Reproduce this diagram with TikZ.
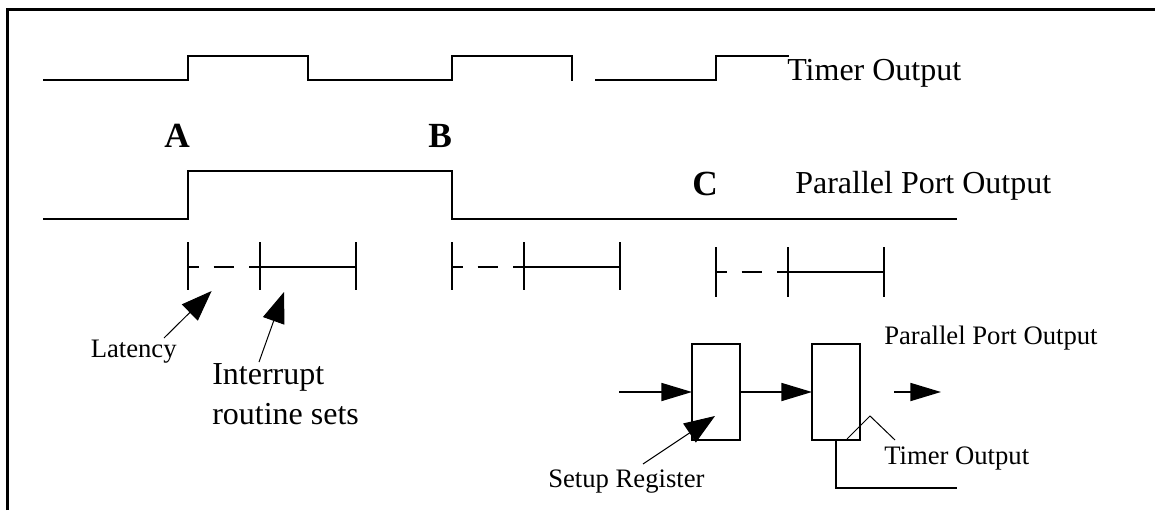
\documentclass[tikz,border=0pt]{standalone}
\usepackage{fontspec}
\setmainfont{Liberation Serif}
\usetikzlibrary{arrows.meta}
\tikzset{
  frameline/.style={line width=2.25pt,line cap=butt},
  wave/.style={line width=1.35pt,line join=miter},
  tickline/.style={line width=1.35pt},
  thin leader/.style={line width=0.75pt},
  bigtext/.style={inner sep=0pt,anchor=base west,font=\fontsize{24}{30}\selectfont},
  smalltext/.style={inner sep=0pt,anchor=base west,font=\fontsize{20}{24}\selectfont},
  boldtext/.style={inner sep=0pt,anchor=base west,font=\fontsize{26.5}{30}\selectfont\bfseries},
  regbox/.style={draw,line width=1.35pt,minimum width=36pt,minimum height=72pt,inner sep=0pt,outer sep=0pt},
  flow/.style={line width=1.35pt,-{Triangle[length=23pt,width=13.5pt]}},
  pointer/.style={line width=0.75pt,-{Triangle[length=23pt,width=17pt]}}
}
\begin{document}
\begin{tikzpicture}[x=0.75pt,y=-0.75pt]
\useasboundingbox (0,0) rectangle (1155,510);
% frame
\draw[frameline] (7.5,510) -- (7.5,10) -- (1155,10);
% timer output
\draw[wave] (43,80) -- (188,80) -- (188,56) -- (308,56) -- (308,80) -- (452,80) -- (452,56) -- (572,56) -- (572,81);
\draw[wave] (595,80) -- (716,80) -- (716,56) -- (789,56);
% parallel port output
\draw[wave] (43,219) -- (188,219) -- (188,171) -- (452,171) -- (452,219) -- (957,219);
% timing marks
\draw[tickline] (188,242) -- (188,290) (260,242) -- (260,290) (356,242) -- (356,290);
\draw[tickline] (188,267) -- (199,267) (213.5,267) -- (234,267) (249,267) -- (356,267);
\draw[tickline] (452,242) -- (452,290) (524,242) -- (524,290) (620,242) -- (620,290);
\draw[tickline] (452,267) -- (463,267) (477.5,267) -- (498,267) (513,267) -- (620,267);
\draw[tickline] (716,247) -- (716,297) (788,247) -- (788,297) (884,247) -- (884,297);
\draw[tickline] (716,272) -- (727,272) (741.5,272) -- (762,272) (777,272) -- (884,272);
% labels
\node[bigtext] (lblTimer) at (787,80) {Timer Output};
\node[bigtext] (lblPort) at (795,193) {Parallel Port Output};
\node[boldtext] (lblA) at (164,147) {A};
\node[boldtext] (lblB) at (428,147) {B};
\node[boldtext] (lblC) at (692,195) {C};
\node[smalltext] (lblLatency) at (90.5,357) {Latency};
\node[bigtext,align=left] (lblInt) at (212,424) {Interrupt\\routine sets};
\node[smalltext] (lblPort2) at (884,344) {Parallel Port Output};
\node[smalltext] (lblTimer2) at (884,464) {Timer Output};
\node[smalltext] (lblSetup) at (548,487) {Setup Register};
% pointers
\coordinate (latTail) at (164,338);
\coordinate (latTip) at (211.6,291);
\coordinate (intTail) at (259,362);
\coordinate (intTip) at (284,292);
\coordinate (setTail) at (643,464);
\coordinate (setTip) at (715,416);
\draw[pointer] (latTail) -- (latTip);
\draw[pointer] (intTail) -- (intTip);
% registers
\node[regbox] (reg1) at (716,392) {};
\node[regbox] (reg2) at (836,392) {};
\draw[pointer] (setTail) -- (setTip);
\coordinate (inStart) at (619,392);
\coordinate (outStart) at (894,392);
\coordinate (outEnd) at (941,392);
\coordinate (wireEnd) at (957,488);
\draw[flow] (inStart) -- (reg1.west);
\draw[flow] (reg1.east) -- (reg2.west);
\draw[flow] (outStart) -- (outEnd);
\draw[wave] (reg2.south) |- (wireEnd);
% timer leader
\coordinate (leadA) at (847,439);
\coordinate (leadB) at (870,416);
\coordinate (leadC) at (895,440);
\draw[thin leader] (leadA) -- (leadB) -- (leadC);
\end{tikzpicture}
\end{document}
